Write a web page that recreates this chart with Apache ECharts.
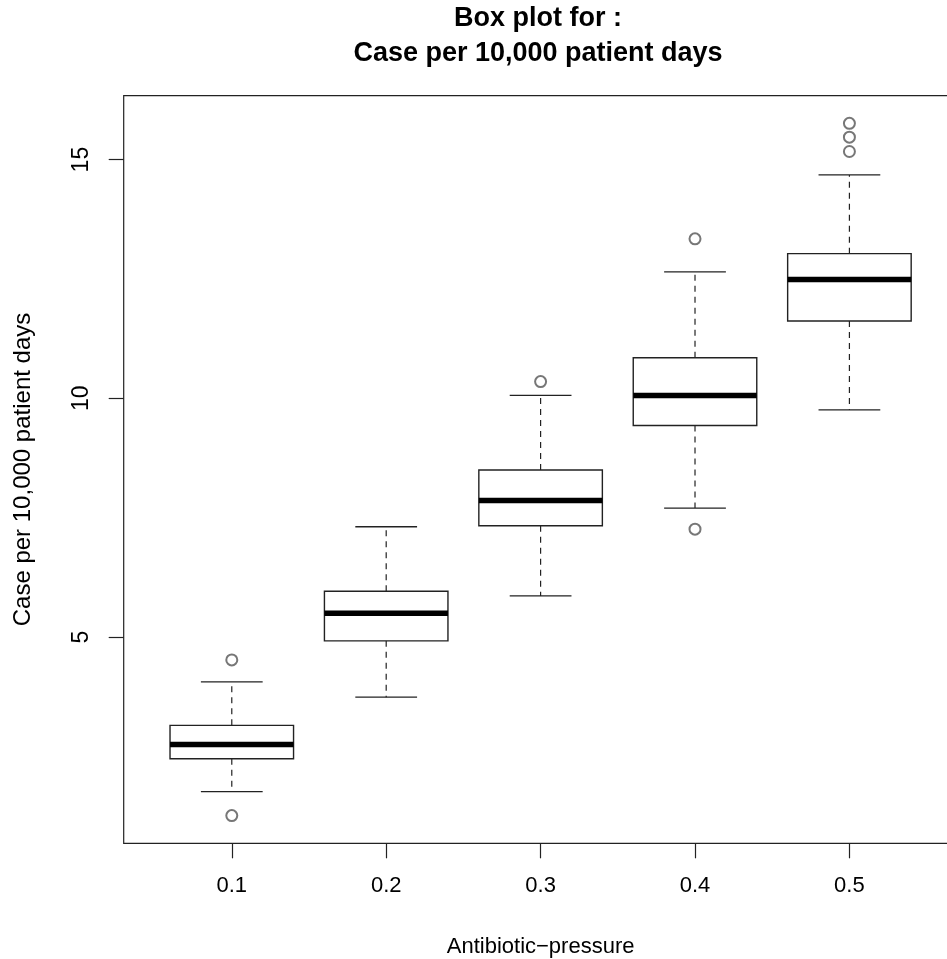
<!DOCTYPE html>
<html><head><meta charset="utf-8">
<script src="https://cdn.jsdelivr.net/npm/echarts@6/dist/echarts.min.js"></script>
<style>html,body{margin:0;padding:0;background:#fff}#c{width:947px;height:959px}</style>
</head><body><div id="c"></div>
<script>
// ---- data ----
const categories = ['0.1', '0.2', '0.3', '0.4', '0.5'];
const lowerWhisker = [1.76, 3.74, 5.86, 7.70, 9.76];
const q1Values = [2.45, 4.92, 7.33, 9.43, 11.62];
const medianValues = [2.75, 5.50, 7.86, 10.06, 12.49];
const q3Values = [3.15, 5.96, 8.50, 10.85, 13.03];
const upperWhisker = [4.06, 7.31, 10.06, 12.65, 14.68];
const outlierGroup = [1, 1, 3, 4, 4, 5, 5, 5];
const outlierValue = [4.52, 1.26, 10.35, 13.34, 7.26, 15.76, 15.47, 15.17];
const yTickValues = [5, 10, 15];
const xTickValues = [1, 2, 3, 4, 5];

const FONT = '"Liberation Sans", Arial, Helvetica, sans-serif';
const INK = '#222';
const BOX_WEX = 0.8;

const boxData = categories.map((c, i) => [i + 1, lowerWhisker[i], q1Values[i], medianValues[i], q3Values[i], upperWhisker[i]]);
const outlierData = outlierGroup.map((g, i) => [g, outlierValue[i]]);

function renderBox(params, api) {
  const x = api.value(0);
  const lo = api.coord([x, api.value(1)]);
  const q1 = api.coord([x, api.value(2)]);
  const md = api.coord([x, api.value(3)]);
  const q3 = api.coord([x, api.value(4)]);
  const hi = api.coord([x, api.value(5)]);
  const bw = api.size([BOX_WEX, 0])[0];
  const half = bw / 2, cap = bw / 4;
  const cx = lo[0];
  const dashed = { stroke: INK, lineWidth: 1.2, lineDash: [6, 5] };
  const solid = { stroke: INK, lineWidth: 1.3 };
  return {
    type: 'group',
    children: [
      { type: 'line', shape: { x1: cx, y1: q1[1], x2: cx, y2: lo[1] }, style: dashed },
      { type: 'line', shape: { x1: cx, y1: q3[1], x2: cx, y2: hi[1] }, style: dashed },
      { type: 'line', shape: { x1: cx - cap, y1: lo[1], x2: cx + cap, y2: lo[1] }, style: solid },
      { type: 'line', shape: { x1: cx - cap, y1: hi[1], x2: cx + cap, y2: hi[1] }, style: solid },
      { type: 'rect', shape: { x: cx - half, y: q3[1], width: bw, height: q1[1] - q3[1] }, style: { fill: '#fff', stroke: INK, lineWidth: 1.4 } },
      { type: 'line', shape: { x1: cx - half, y1: md[1], x2: cx + half, y2: md[1] }, style: { stroke: '#000', lineWidth: 5.5, lineCap: 'butt' } }
    ]
  };
}

const chart = echarts.init(document.getElementById('c'), null, { renderer: 'canvas' });
chart.setOption({
  animation: false,
  backgroundColor: '#fff',
  title: {
    text: 'Box plot for :\nCase per 10,000 patient days',
    left: 538, top: 1, textAlign: 'center', padding: 0,
    textStyle: { fontFamily: FONT, fontSize: 27, fontWeight: 'bold', color: '#000', lineHeight: 35 }
  },
  grid: {
    left: 123.7, right: -10.5, top: 95.7, bottom: 115.7,
    outerBoundsMode: 'none', containLabel: false,
    show: true, borderColor: INK, borderWidth: 1.2, backgroundColor: 'transparent'
  },
  xAxis: {
    type: 'value', min: 0.3, max: 5.7,
    name: 'Antibiotic\u2212pressure', nameLocation: 'middle', nameGap: 93,
    nameTextStyle: { fontFamily: FONT, fontSize: 22, color: '#000' },
    axisLine: { show: false }, splitLine: { show: false },
    axisTick: { show: true, length: 15, customValues: xTickValues, lineStyle: { color: INK, width: 1.2 } },
    axisLabel: { customValues: xTickValues, formatter: v => categories[Math.round(v) - 1], margin: 32, fontFamily: FONT, fontSize: 22, color: '#000' }
  },
  yAxis: {
    type: 'value', min: 0.679, max: 16.339,
    name: 'Case per 10,000 patient days', nameLocation: 'middle', nameRotate: 90, nameGap: 88,
    nameTextStyle: { fontFamily: FONT, fontSize: 24, color: '#000' },
    axisLine: { show: false }, splitLine: { show: false },
    axisTick: { show: true, length: 15, customValues: yTickValues, lineStyle: { color: INK, width: 1.2 } },
    axisLabel: { customValues: yTickValues, rotate: 90, margin: 31, fontFamily: FONT, fontSize: 23, color: '#000' }
  },
  series: [
    { type: 'custom', data: boxData, encode: { x: 0, y: [1, 2, 3, 4, 5] }, renderItem: renderBox, clip: false, z: 2 },
    { type: 'scatter', data: outlierData, symbol: 'emptyCircle', symbolSize: 11,
      itemStyle: { color: '#555', borderColor: '#555', borderWidth: 1.3 }, z: 3 }
  ]
});
</script>
</body></html>
